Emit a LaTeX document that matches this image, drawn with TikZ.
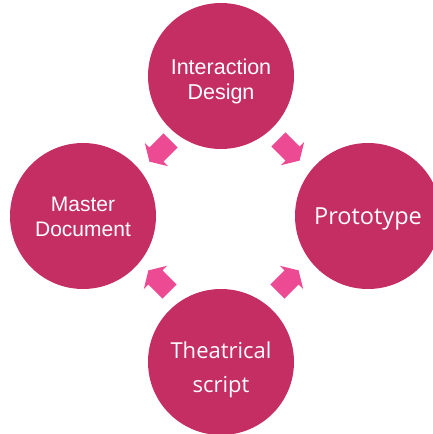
\documentclass[tikz,border=0pt]{standalone}
\usepackage{fontspec}
\setmainfont{Liberation Sans}
\newfontfamily\opensans{Open Sans}
\definecolor{stagefill}{RGB}{197,46,99}
\definecolor{flowfill}{RGB}{236,74,146}
\tikzset{
  stage/.style={circle, fill=stagefill, draw=none, minimum size=146pt, inner sep=0pt},
  stagetext/.style={text=white, align=center, inner sep=0pt},
  flowarrow/.style={fill=flowfill, draw=none},
}
% block arrow centred on #1, pointing in direction #2
\newcommand\cyclearrow[2]{%
  \begin{scope}[shift={#1}, rotate=#2]
    \fill[flowarrow] (-15,-10) -- (5,-10) -- (5,-16.5) -- (15,0)
      -- (5,16.5) -- (5,10) -- (-15,10) -- cycle;
  \end{scope}}
\begin{document}
\begin{tikzpicture}[x=1pt, y=1pt]
  \useasboundingbox (0,0) rectangle (432,434);

  % stages of the cycle
  \node[stage] (design)    at (221,358) {};
  \node[stage] (master)    at (83,218)  {};
  \node[stage] (prototype) at (368,218) {};
  \node[stage] (script)    at (221,72)  {};

  % stage captions
  \node[stagetext, font=\fontsize{21.5}{25}\selectfont, yshift=-5pt]
    (design-t) at (design) {Interaction\\Design};
  \node[stagetext, font=\fontsize{21}{25}\selectfont, yshift=-1pt]
    (master-t) at (master) {Master\\Document};
  \node[stagetext, font=\opensans\fontsize{23.5}{28}\selectfont, yshift=-2.7pt]
    (prototype-t) at (prototype) {Prototype};
  \node[stagetext, font=\opensans\fontsize{22}{34}\selectfont, yshift=-7.5pt]
    (script-t) at (script) {Theatrical\\script};

  % arrows between the stages
  \cyclearrow{(160,283)}{225}
  \cyclearrow{(289,284)}{-45}
  \cyclearrow{(159,153)}{135}
  \cyclearrow{(288,153)}{45}
\end{tikzpicture}
\end{document}
